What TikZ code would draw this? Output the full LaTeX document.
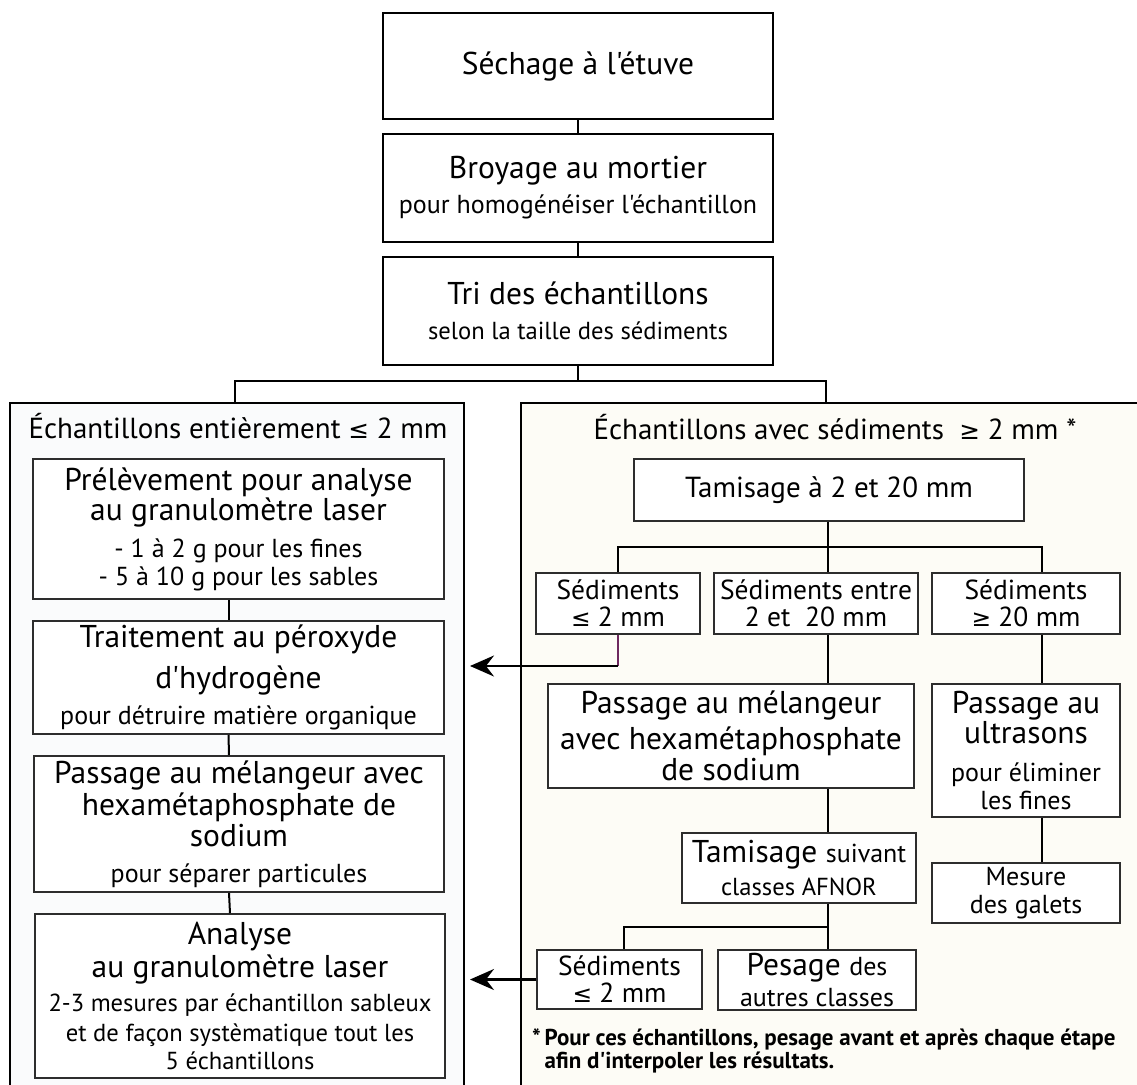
\documentclass[tikz,border=0pt]{standalone}
\usepackage{fontspec}
\defaultfontfeatures[\rmfamily]{}
\setmainfont{PT Sans}
\newfontfamily\symf{DejaVu Sans}[Scale=0.85]
\usetikzlibrary{arrows.meta}
\definecolor{lpanel}{RGB}{250,251,252}
\definecolor{rpanel}{RGB}{253,252,246}
\definecolor{boxline}{RGB}{45,45,45}
\definecolor{purp}{RGB}{110,40,95}
\newcommand\fL{\fontsize{31.5}{28}\selectfont}
\newcommand\fT{\fontsize{29}{28}\selectfont}
\newcommand\fH{\fontsize{29}{28}\selectfont}
\newcommand\fM{\fontsize{26}{28}\selectfont}
\newcommand\fMs{\fontsize{24.6}{28}\selectfont}
\newcommand\fSed{\fontsize{27.5}{28}\selectfont}
\newcommand\fS{\fontsize{23}{22}\selectfont}
\newcommand\lesym{{\symf ≤}}
\newcommand\gesym{{\symf ≥}}
\newcommand\ap{'}
\tikzset{
  topbox/.style={draw=black, line width=2.6pt, fill=white, inner sep=0pt, align=center, font=\fL},
  inbox/.style={draw=boxline, line width=1.6pt, fill=white, inner sep=0pt, align=center, font=\fL},
  panel/.style={draw=black, line width=2.2pt, inner sep=0pt},
  conn/.style={line width=2.2pt, draw=black},
  iconn/.style={line width=2pt, draw=black},
  arr/.style={conn, -{Stealth[length=24pt,width=21pt,inset=8pt]}},
}
\begin{document}
\begin{tikzpicture}[x=1pt,y=-1pt]
\useasboundingbox (0,0) rectangle (1137,1084);
\fill[white] (0,0) rectangle (1137,1084);
\begin{scope}
\clip (0,0) rectangle (1137,1084);
% panels
\node[panel, fill=lpanel, minimum width=454pt, minimum height=700pt] (lp) at (237,753) {};
\node[panel, fill=rpanel, minimum width=629pt, minimum height=700pt] (rp) at (835.5,753) {};

% top column
\node[topbox, minimum width=390pt, minimum height=106pt] (sech) at (578,66) {Séchage à l\ap étuve};
\node[topbox, minimum width=390pt, minimum height=108pt] (broy) at (578,188) {Broyage au mortier\\[7pt]{\fM pour homogénéiser l\ap échantillon}};
\node[topbox, minimum width=390pt, minimum height=108pt] (tri) at (578,311) {Tri des échantillons\\[7pt]{\fMs selon la taille des sédiments}};

\coordinate (jl) at (235,381);
\coordinate (jr) at (826,381);
\draw[conn] (sech.south) -- (broy.north);
\draw[conn] (broy.south) -- (tri.north);
\draw[conn] (tri.south) -- (tri.south |- jl);
\draw[conn] (jl |- lp.north) -- (jl) -- (jr) -- (jr |- rp.north);

% headers
\node[font=\fH, anchor=base] (lhdr) at (238,438) {Échantillons entièrement \lesym{} 2 mm};
\node[font=\fH, anchor=base] (rhdr) at (835,439) {Échantillons avec sédiments\ \ \gesym{} 2 mm *};

% left column
\node[inbox, minimum width=411pt, minimum height=140pt] (prel) at (238.5,529) {Prélèvement pour analyse\\au granulomètre laser\\[9pt]{\fM - 1 à 2 g pour les fines}\\{\fM - 5 à 10 g pour les sables}};
\node[inbox, minimum width=411pt, minimum height=113pt] (trait) at (238.5,677.5) {Traitement au péroxyde\\[11pt]d\ap hydrogène\\[8pt]{\fM pour détruire matière organique}};
\node[inbox, minimum width=410pt, minimum height=136pt] (pass) at (239,824) {Passage au mélangeur avec\\[2pt]hexamétaphosphate de\\[1pt]sodium\\[8pt]{\fM pour séparer particules}};
\node[inbox, minimum width=410pt, minimum height=164pt] (anal) at (240,996) {Analyse\\[2pt]au granulomètre laser\\[6pt]{\fMs 2-3 mesures par échantillon sableux}\\[2pt]{\fMs et de façon systèmatique tout les}\\{\fMs 5 échantillons}};
\draw[iconn] ([xshift=-10pt]prel.south) -- ([xshift=-10pt]trait.north);
\draw[iconn] ([xshift=-10pt]trait.south) -- ([xshift=-10pt]pass.north);
\draw[iconn] ([xshift=-10pt]pass.south) -- ([xshift=-10pt]anal.north);

% right column
\node[inbox, font=\fT, minimum width=390pt, minimum height=62pt] (tam) at (829,490) {Tamisage à 2 et 20 mm};
\node[inbox, font=\fSed, minimum width=164pt, minimum height=61pt] (s2) at (618,603.5) {Sédiments\\[-1pt]\lesym{} 2 mm};
\node[inbox, font=\fSed, minimum width=204pt, minimum height=61pt] (s220) at (816,603.5) {Sédiments entre\\[-1pt]2 et\ \ 20 mm};
\node[inbox, font=\fSed, minimum width=188pt, minimum height=61pt] (s20) at (1026,603.5) {Sédiments\\[-1pt]\gesym{} 20 mm};
\node[inbox, minimum width=366pt, minimum height=104pt] (passR) at (731,736) {Passage au mélangeur\\[5pt]avec hexamétaphosphate\\[2pt]de sodium};
\node[inbox, minimum width=188pt, minimum height=133pt] (ultra) at (1026,750.5) {Passage au\\ultrasons\\[10pt]{\fM pour éliminer}\\{\fM les fines}};
\node[inbox, minimum width=234pt, minimum height=70pt] (tsuiv) at (799,868) {Tamisage {\fM suivant}\\[5pt]{\fMs classes AFNOR}};
\node[inbox, font=\fM, minimum width=188pt, minimum height=60pt] (mes) at (1026,893) {Mesure\\des galets};
\node[inbox, font=\fSed, minimum width=165pt, minimum height=59pt] (s2b) at (619.5,979.5) {Sédiments\\[-1pt]\lesym{} 2 mm};
\node[inbox, minimum width=198pt, minimum height=60pt] (pes) at (817,980) {Pesage {\fM des}\\[3pt]{\fM autres classes}};

\coordinate (j2) at (828,547);
\coordinate (j3) at (828,927);
\draw[iconn] (tam.south -| j2) -- (j2);
\draw[iconn] (s2.north) -- (s2.north |- j2) -- ([xshift=16pt]s20.north |- j2) -- ([xshift=16pt]s20.north);
\draw[iconn] (j2) -- (j2 |- s220.north);
\draw[iconn] (j2 |- s220.south) -- (j2 |- passR.north);
\draw[iconn] (j2 |- passR.south) -- (j2 |- tsuiv.north);
\draw[iconn] (j2 |- tsuiv.south) -- (j3 |- pes.north);
\draw[iconn] ([xshift=4pt]s2b.north) -- ([xshift=4pt]s2b.north |- j3) -- (j3);
\draw[iconn] ([xshift=16pt]s20.south) -- ([xshift=16pt]ultra.north);
\draw[iconn] ([xshift=16pt]ultra.south) -- ([xshift=16pt]mes.north);

% arrows to the left column
\coordinate (a1) at (470,666);
\coordinate (k1) at (s2.south |- a1);
\draw[iconn, draw=purp] (s2.south) -- (k1);
\draw[arr] (k1) -- (a1);
\draw[arr] (s2b.west) -- (s2b.west -| a1);

% footnote
\node[font=\fS\bfseries, anchor=base west, inner sep=0pt] (note) at (532,1045)
  {\begin{tabular}[t]{@{}l@{\,}l@{}}*&Pour ces échantillons, pesage avant et après chaque étape\\ &afin d\ap interpoler les résultats.\end{tabular}};
\end{scope}
\end{tikzpicture}
\end{document}
